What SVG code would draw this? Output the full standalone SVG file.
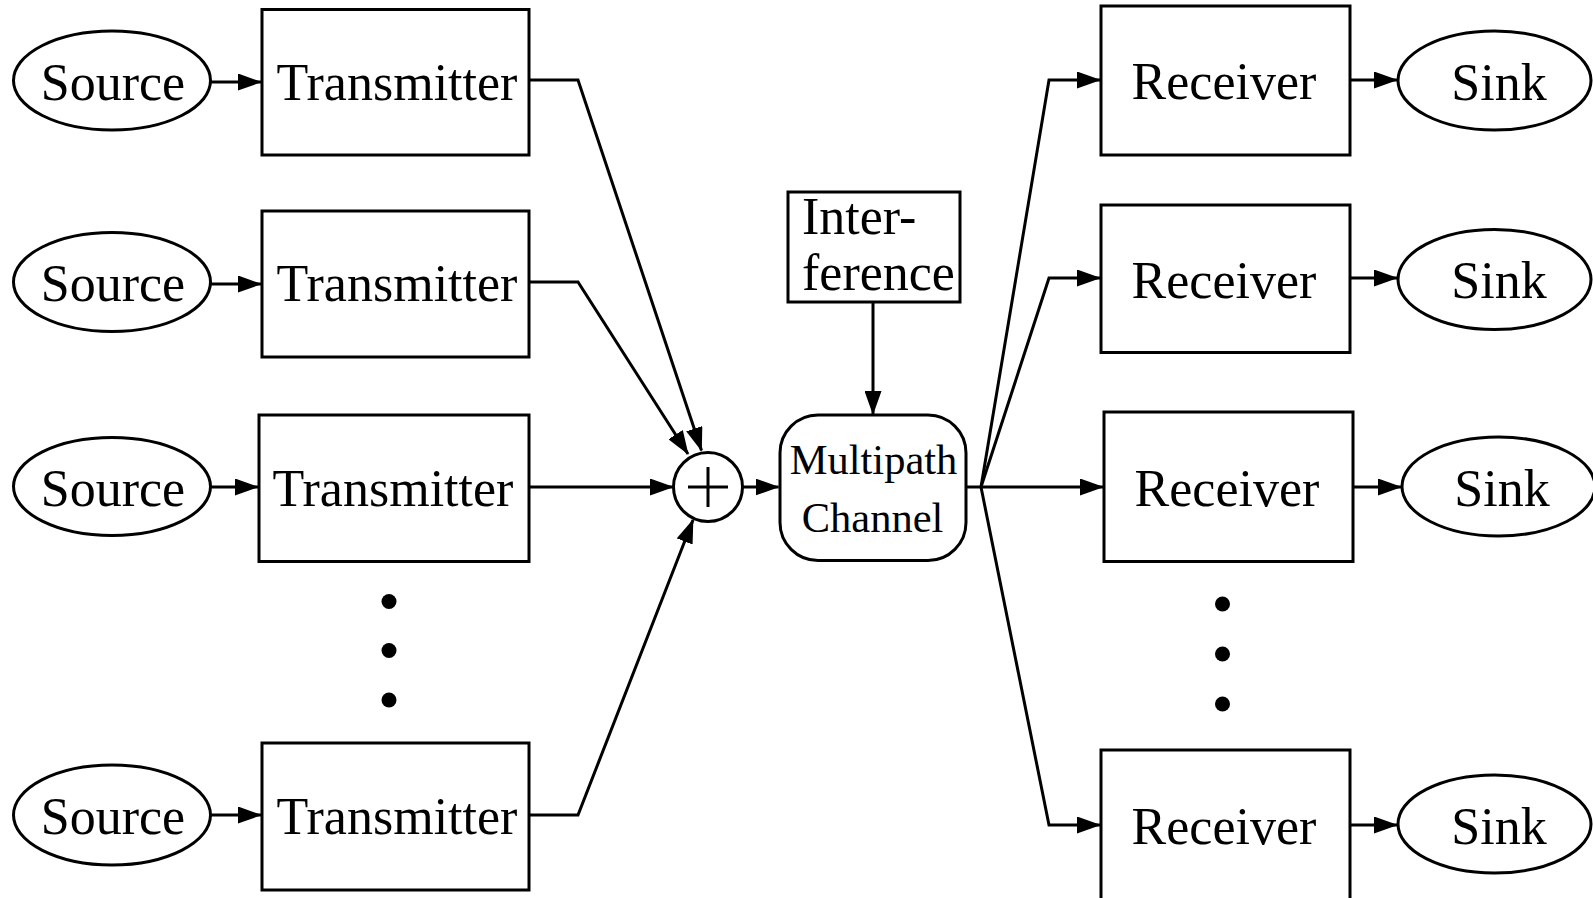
<svg xmlns="http://www.w3.org/2000/svg" width="1593" height="898" viewBox="0 0 1593 898">
<style>
.shape{fill:#fff;stroke:#000;stroke-width:3}
.lbl{font-family:"Liberation Serif","Times New Roman",serif;font-size:52px;fill:#000;text-anchor:middle}
.sm{font-size:42.5px}
.lft{text-anchor:start}
.con{fill:none;stroke:#000;stroke-width:3;stroke-linejoin:miter;marker-end:url(#ah)}
.plain{fill:none;stroke:#000;stroke-width:3}
.dot{fill:#000}
</style>
<defs>
<marker id="ah" markerUnits="userSpaceOnUse" markerWidth="24" markerHeight="17" viewBox="0 0 24 17" refX="23" refY="8.5" orient="auto">
<path d="M0,0 L24,8.5 L0,17 z" fill="#000"/>
</marker>
</defs>
<rect width="1593" height="898" fill="#fff"/>

<g id="connectors">
<line class="con" x1="211" y1="82" x2="261" y2="82"/>
<line class="con" x1="211" y1="284" x2="261" y2="284"/>
<line class="con" x1="211" y1="487" x2="258" y2="487"/>
<line class="con" x1="211" y1="815" x2="261" y2="815"/>
<polyline class="con" points="529,80 578,80 701.5,450.5"/>
<polyline class="con" points="529,282 578,282 688,454"/>
<line class="con" x1="529" y1="487" x2="673" y2="487"/>
<polyline class="con" points="529,815 578,815 693,520"/>
<line class="con" x1="742.5" y1="487" x2="778.5" y2="487"/>
<line class="con" x1="873" y1="302" x2="873" y2="414"/>
<line class="plain" x1="966" y1="487" x2="981" y2="487"/>
<polyline class="con" points="981,487 1049,80 1100,80"/>
<polyline class="con" points="981,487 1049,278 1100,278"/>
<line class="con" x1="981" y1="487" x2="1103" y2="487"/>
<polyline class="con" points="981,487 1049,825 1100,825"/>
<line class="con" x1="1350" y1="80" x2="1397" y2="80"/>
<line class="con" x1="1350" y1="278" x2="1397" y2="278"/>
<line class="con" x1="1353" y1="487" x2="1401" y2="487"/>
<line class="con" x1="1350" y1="825" x2="1397" y2="825"/>
</g>

<g id="source1"><ellipse class="shape" cx="112" cy="80.5" rx="98.5" ry="49.5"/><text class="lbl" x="113" y="99.5">Source</text></g>
<g id="source2"><ellipse class="shape" cx="112" cy="282" rx="98.5" ry="49.5"/><text class="lbl" x="113" y="300.5">Source</text></g>
<g id="source3"><ellipse class="shape" cx="112" cy="486.5" rx="98.5" ry="49"/><text class="lbl" x="113" y="506">Source</text></g>
<g id="source4"><ellipse class="shape" cx="112" cy="815" rx="98.5" ry="50"/><text class="lbl" x="113" y="834">Source</text></g>

<g id="transmitter1"><rect class="shape" x="262" y="9.5" width="267" height="145.5"/><text class="lbl" x="397" y="99.5">Transmitter</text></g>
<g id="transmitter2"><rect class="shape" x="262" y="211" width="267" height="146"/><text class="lbl" x="397" y="301">Transmitter</text></g>
<g id="transmitter3"><rect class="shape" x="259" y="415" width="270" height="146.5"/><text class="lbl" x="393" y="506">Transmitter</text></g>
<g id="transmitter4"><rect class="shape" x="262" y="743" width="267" height="147"/><text class="lbl" x="397" y="834">Transmitter</text></g>

<g id="dots-left"><circle class="dot" cx="389" cy="601.5" r="7.5"/><circle class="dot" cx="389" cy="650.5" r="7.5"/><circle class="dot" cx="389" cy="700" r="7.5"/></g>

<g id="adder"><circle class="shape" cx="708" cy="487" r="34.5"/><path class="plain" d="M688,487 H728 M708,467 V507"/></g>

<g id="interference"><rect class="shape" x="788" y="192" width="172" height="110"/><text class="lbl lft" x="802" y="233.5">Inter-</text><text class="lbl lft" x="802" y="290">ference</text></g>

<g id="channel"><rect class="shape" x="780" y="415" width="186" height="145.5" rx="38" ry="38"/><text class="lbl sm" x="873.5" y="473.5">Multipath</text><text class="lbl sm" x="872.5" y="531.5">Channel</text></g>

<g id="receiver1"><rect class="shape" x="1101" y="6" width="249" height="149"/><text class="lbl" x="1224" y="99">Receiver</text></g>
<g id="receiver2"><rect class="shape" x="1101" y="205" width="249" height="147.5"/><text class="lbl" x="1224" y="297.5">Receiver</text></g>
<g id="receiver3"><rect class="shape" x="1104" y="412" width="249" height="149.5"/><text class="lbl" x="1227" y="506">Receiver</text></g>
<g id="receiver4"><rect class="shape" x="1101" y="750" width="249" height="160"/><text class="lbl" x="1224" y="843.5">Receiver</text></g>

<g id="dots-right"><circle class="dot" cx="1222.5" cy="604" r="7.5"/><circle class="dot" cx="1222.5" cy="654" r="7.5"/><circle class="dot" cx="1222.5" cy="704" r="7.5"/></g>

<g id="sink1"><ellipse class="shape" cx="1494.5" cy="80.5" rx="96.5" ry="49.5"/><text class="lbl" x="1499" y="99.5">Sink</text></g>
<g id="sink2"><ellipse class="shape" cx="1494.5" cy="279.5" rx="96.5" ry="50"/><text class="lbl" x="1499" y="297.5">Sink</text></g>
<g id="sink3"><ellipse class="shape" cx="1498.5" cy="486.5" rx="96.5" ry="49.5"/><text class="lbl" x="1502" y="506">Sink</text></g>
<g id="sink4"><ellipse class="shape" cx="1494.5" cy="824" rx="96.5" ry="49"/><text class="lbl" x="1499" y="843.5">Sink</text></g>
</svg>
